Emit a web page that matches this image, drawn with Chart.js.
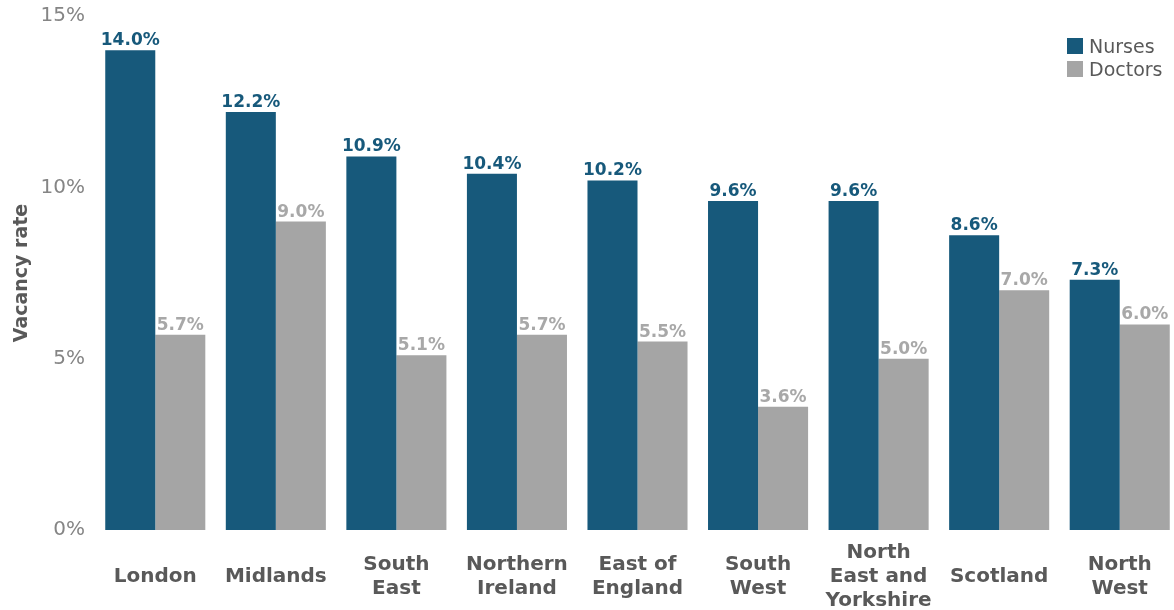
<!DOCTYPE html>
<html>
<head>
<meta charset="utf-8">
<script src="https://cdn.jsdelivr.net/npm/chart.js@4/dist/chart.umd.min.js"></script>
<style>
  html, body { margin: 0; padding: 0; background: #fff; overflow: hidden; width: 1174px; height: 610px; }
  #wrap { position: relative; width: 1180px; height: 610px; }
  #legend { position: absolute; left: 1067px; top: 34px; font-family: "DejaVu Sans", Verdana, sans-serif; font-size: 19px; color: #595959; }
  #legend .item { display: flex; align-items: center; height: 23px; }
  #legend .sw { width: 16px; height: 16px; margin-right: 6px; }
</style>
</head>
<body>
<div id="wrap">
  <canvas id="c" width="1180" height="610"></canvas>
  <div id="legend"></div>
</div>
<script>
const categories = [
  "London", "Midlands", ["South", "East"], ["Northern", "Ireland"], ["East of", "England"],
  ["South", "West"], ["North", "East and", "Yorkshire"], "Scotland", ["North", "West"]
];
const nurses  = [14.0, 12.2, 10.9, 10.4, 10.2, 9.6, 9.6, 8.6, 7.3];
const doctors = [5.7, 9.0, 5.1, 5.7, 5.5, 3.6, 5.0, 7.0, 6.0];
const seriesNames = ["Nurses", "Doctors"];
const yTicks = [0, 5, 10, 15];

const FONT = '"DejaVu Sans", Verdana, sans-serif';
const BLUE = '#17597b';
const GREY = '#a5a5a5';
const LABEL_COLORS = ['#17597b', '#a8a8a8'];

const valueLabels = {
  id: 'valueLabels',
  afterDatasetsDraw(chart) {
    const ctx = chart.ctx;
    ctx.save();
    ctx.font = 'bold 17px ' + FONT;
    ctx.textAlign = 'center';
    ctx.textBaseline = 'alphabetic';
    chart.data.datasets.forEach((ds, di) => {
      const meta = chart.getDatasetMeta(di);
      ctx.fillStyle = LABEL_COLORS[di];
      meta.data.forEach((bar, i) => {
        ctx.fillText(ds.data[i].toFixed(1) + '%', bar.x, bar.y - 5);
      });
    });
    ctx.restore();
  }
};

const chart = new Chart(document.getElementById('c'), {
  type: 'bar',
  data: {
    labels: categories,
    datasets: [
      { label: seriesNames[0], data: nurses, backgroundColor: BLUE, categoryPercentage: 0.83, barPercentage: 1.0 },
      { label: seriesNames[1], data: doctors, backgroundColor: GREY, categoryPercentage: 0.83, barPercentage: 1.0 }
    ]
  },
  options: {
    responsive: false,
    animation: false,
    layout: { padding: { top: 16, right: 0, left: 0, bottom: 0 } },
    plugins: { legend: { display: false }, tooltip: { enabled: false } },
    scales: {
      x: {
        grid: { display: false, drawTicks: false },
        border: { display: false },
        ticks: {
          color: '#595959',
          font: { family: FONT, size: 20, weight: 'bold', lineHeight: '24px' },
          padding: 23,
          crossAlign: 'center',
          maxRotation: 0,
          autoSkip: false
        },
        afterFit(scale) { scale.height = 80; scale.paddingLeft = 0; scale.paddingRight = 0; }
      },
      y: {
        min: 0, max: 15,
        grid: { display: false, drawTicks: false },
        border: { display: false },
        afterBuildTicks(scale) { scale.ticks = yTicks.map(v => ({ value: v })); },
        ticks: {
          color: '#858585',
          font: { family: FONT, size: 20 },
          padding: 10,
          callback: v => v + '%'
        },
        title: {
          display: true,
          text: 'Vacancy rate',
          color: '#595959',
          font: { family: FONT, size: 19, weight: 'bold' },
          padding: { top: 11, bottom: 4 }
        },
        afterFit(scale) { scale.width = 95; scale.paddingTop = 0; scale.paddingBottom = 0; }
      }
    }
  },
  plugins: [valueLabels]
});

const legendEl = document.getElementById('legend');
chart.data.datasets.forEach(ds => {
  const item = document.createElement('div');
  item.className = 'item';
  const sw = document.createElement('span');
  sw.className = 'sw';
  sw.style.background = ds.backgroundColor;
  const tx = document.createElement('span');
  tx.textContent = ds.label;
  item.appendChild(sw);
  item.appendChild(tx);
  legendEl.appendChild(item);
});
</script>
</body>
</html>
